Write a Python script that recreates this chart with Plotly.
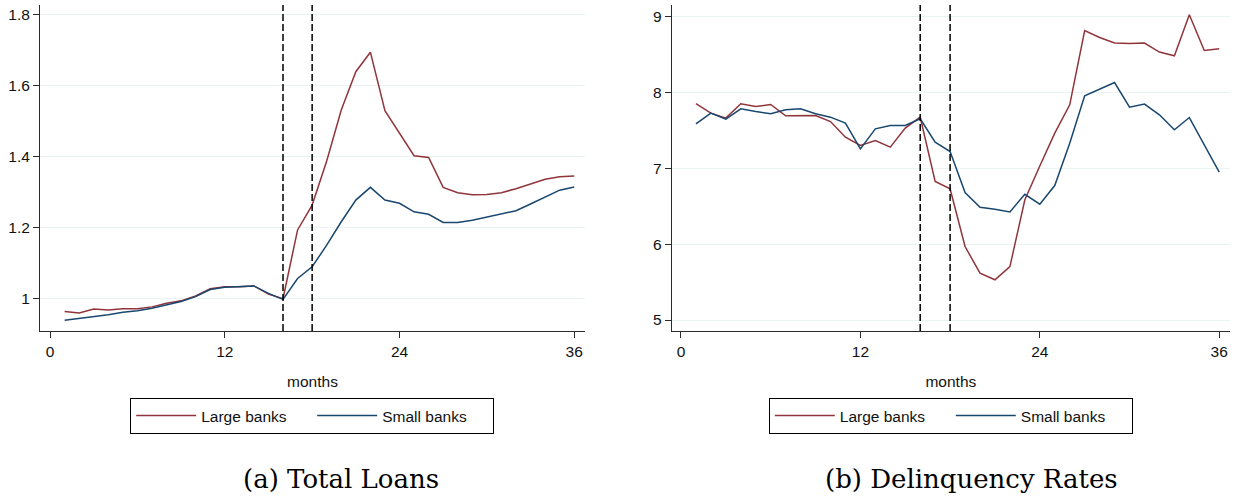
import plotly.graph_objects as go

# Monthly series, months 1..36
months = list(range(1, 37))

loans_large = [0.964, 0.960, 0.971, 0.968, 0.972, 0.972, 0.977, 0.987, 0.994, 1.008,
               1.028, 1.034, 1.034, 1.036, 1.013, 1.000, 1.194, 1.264, 1.388, 1.532,
               1.640, 1.695, 1.530, 1.467, 1.403, 1.398, 1.314, 1.299, 1.293, 1.294,
               1.299, 1.310, 1.324, 1.337, 1.344, 1.346]
loans_small = [0.939, 0.944, 0.951, 0.955, 0.962, 0.966, 0.973, 0.982, 0.992, 1.006,
               1.026, 1.032, 1.034, 1.036, 1.015, 0.998, 1.057, 1.090, 1.151, 1.217,
               1.278, 1.314, 1.278, 1.269, 1.245, 1.238, 1.215, 1.215, 1.221, 1.230,
               1.237, 1.248, 1.267, 1.287, 1.306, 1.315]

delinq_large = [7.855, 7.728, 7.662, 7.851, 7.815, 7.842, 7.693, 7.697, 7.697, 7.617,
                7.411, 7.301, 7.367, 7.279, 7.530, 7.675, 6.826, 6.730, 5.969, 5.617,
                5.530, 5.705, 6.585, 7.030, 7.464, 7.838, 8.818, 8.726, 8.652, 8.647,
                8.652, 8.533, 8.484, 9.025, 8.554, 8.576]
delinq_small = [7.587, 7.728, 7.649, 7.785, 7.749, 7.719, 7.772, 7.785, 7.719, 7.675,
                7.596, 7.257, 7.521, 7.565, 7.565, 7.653, 7.346, 7.222, 6.680, 6.488,
                6.462, 6.426, 6.658, 6.528, 6.773, 7.332, 7.956, 8.044, 8.132, 7.807,
                7.847, 7.706, 7.508, 7.670, 7.310, 6.950]

event_months = [16, 18]
x_ticks = [0, 12, 24, 36]
loans_ticks = [1.0, 1.2, 1.4, 1.6, 1.8]
loans_tick_text = ["1", "1.2", "1.4", "1.6", "1.8"]
delinq_ticks = [5, 6, 7, 8, 9]
series_names = ["Large banks", "Small banks"]
captions = ["(a) Total Loans", "(b) Delinquency Rates"]

RED = "#90353B"
BLUE = "#1A476F"
GRID = "#EAF2F3"
AXIS = "#2b2b2b"
W, H = 1237, 496

fig = go.Figure()

panels = [
    ("x", "y", "legend", loans_large, loans_small),
    ("x2", "y2", "legend2", delinq_large, delinq_small),
]
for xa, ya, lg, large, small in panels:
    for name, vals, col in zip(series_names, [large, small], [RED, BLUE]):
        fig.add_trace(go.Scatter(
            x=months, y=vals, mode="lines", name=name,
            line=dict(color=col, width=1.5),
            xaxis=xa, yaxis=ya, legend=lg,
        ))
    for m in event_months:
        fig.add_shape(type="line", xref=xa, yref=f"{ya} domain",
                      x0=m, x1=m, y0=0, y1=1,
                      line=dict(color="black", width=1.5, dash="7px,3px"))

tick_font = dict(family="Liberation Sans, Arial, sans-serif", size=15.5, color="#111")

def xaxis(domain, rng, anchor):
    return dict(domain=domain, range=rng, anchor=anchor,
                tickmode="array", tickvals=x_ticks, ticks="outside", ticklen=6,
                tickcolor=AXIS, showline=True, linecolor=AXIS, linewidth=1,
                showgrid=False, zeroline=False, tickfont=tick_font,
                title=dict(text="months", font=tick_font, standoff=17))

def yaxis(domain, rng, anchor, vals, text):
    return dict(domain=domain, range=rng, anchor=anchor,
                tickmode="array", tickvals=vals, ticktext=text, ticks="outside",
                ticklen=6, tickcolor=AXIS, showline=True, linecolor=AXIS,
                linewidth=1, showgrid=True, gridcolor=GRID, gridwidth=1.2,
                zeroline=False, tickfont=tick_font)

y_dom = [(H - 331) / H, (H - 5) / H]
fig.update_layout(
    width=W, height=H,
    margin=dict(l=0, r=0, t=0, b=0),
    paper_bgcolor="white", plot_bgcolor="white",
    xaxis=xaxis([40 / W, 585 / W], [-0.69, 36.74], "y"),
    yaxis=yaxis(y_dom, [0.909, 1.828], "x", loans_ticks, loans_tick_text),
    xaxis2=xaxis([671.7 / W, 1230 / W], [-0.62, 36.72], "y2"),
    yaxis2=yaxis(y_dom, [4.855, 9.154], "x2", delinq_ticks, [str(v) for v in delinq_ticks]),
    showlegend=True,
)

legend_style = dict(orientation="h", xanchor="center", yanchor="top",
                    y=(H - 398) / H, bordercolor="black", borderwidth=1,
                    bgcolor="white", entrywidth=106, itemwidth=60,
                    font=dict(family="Liberation Sans, Arial, sans-serif", size=15.5, color="#111"))
fig.update_layout(
    legend=dict(x=312.2 / W, **legend_style),
    legend2=dict(x=950.8 / W, **legend_style),
)

for cx, text in zip([340.5, 971.5], captions):
    fig.add_annotation(xref="paper", yref="paper", x=cx / W, y=(H - 479) / H,
                       text=text, showarrow=False, xanchor="center", yanchor="middle",
                       font=dict(family="DejaVu Serif, serif", size=26, color="black"))

fig.write_html("out.html")
